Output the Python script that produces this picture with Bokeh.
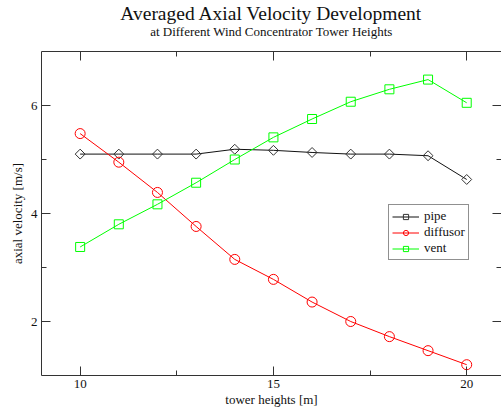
import numpy as np
from bokeh.plotting import figure
from bokeh.models import (Range1d, LinearAxis, FixedTicker, Legend, LegendItem, Title)
from bokeh.embed import file_html
from bokeh.resources import INLINE

# ---- data ----
heights = [10, 11, 12, 13, 14, 15, 16, 17, 18, 19, 20]
pipe = [5.10, 5.10, 5.10, 5.10, 5.19, 5.17, 5.13, 5.10, 5.10, 5.07, 4.63]
diffusor = [5.48, 4.95, 4.39, 3.76, 3.15, 2.78, 2.36, 2.00, 1.72, 1.46, 1.20]
vent = [3.38, 3.80, 4.17, 4.57, 5.00, 5.41, 5.75, 6.07, 6.30, 6.48, 6.05]
x_major = [10, 15, 20]
x_minor = [12.5, 17.5]
y_major = [2, 4, 6]
y_minor = [3, 5]

FONT = "Liberation Serif"
AX = "#333333"

p = figure(width=501, height=409, output_backend="svg", toolbar_location=None,
           x_range=Range1d(9, 20.9), y_range=Range1d(1, 7),
           x_axis_location=None, y_axis_location=None,
           min_border_left=41, min_border_right=0, min_border_top=51, min_border_bottom=34)
p.outline_line_color = None
p.xgrid.visible = False
p.ygrid.visible = False
p.background_fill_color = "white"
p.border_fill_color = "white"

xt = FixedTicker(ticks=x_major, minor_ticks=x_minor)
yt = FixedTicker(ticks=y_major, minor_ticks=y_minor)

def style(ax, labels=True):
    ax.axis_line_color = AX
    ax.major_tick_line_color = AX
    ax.minor_tick_line_color = AX
    ax.major_tick_in = 9
    ax.major_tick_out = 0
    ax.minor_tick_in = 5
    ax.minor_tick_out = 0
    ax.major_label_text_font = FONT
    ax.axis_label_text_font = FONT
    ax.axis_label_text_font_style = "normal"
    ax.axis_label_text_font_size = "13px"
    ax.axis_label_text_color = "#111111"
    if labels:
        ax.major_label_text_font_size = "13px"
        ax.major_label_text_color = "#111111"
    else:
        ax.major_label_text_font_size = "0px"
        ax.major_label_text_color = None
        ax.major_label_standoff = 0

bottom = LinearAxis(ticker=xt, axis_label="tower heights [m]")
style(bottom)
bottom.major_label_standoff = 4
bottom.axis_label_standoff = 1
p.add_layout(bottom, "below")

left = LinearAxis(ticker=yt, axis_label="axial velocity [m/s]")
style(left)
left.major_label_standoff = 4
left.axis_label_standoff = 3
p.add_layout(left, "left")

# top axis: ticks only; an invisible blank axis label reserves room under the titles
top = LinearAxis(ticker=xt, axis_label=" ")
style(top, labels=False)
top.axis_label_text_color = None
top.axis_label_standoff = -5
p.add_layout(top, "above")

right = LinearAxis(ticker=yt)
style(right, labels=False)
right.axis_line_color = None
p.add_layout(right, "right")

# ---- series ----
l1 = p.line(heights, pipe, line_color="#111111", line_width=1)
m1 = p.scatter(heights, pipe, marker="square", angle=np.pi / 4, size=7,
               line_color="#333333", fill_color=None, line_width=1)
l2 = p.line(heights, diffusor, line_color="#ff0000", line_width=1)
m2 = p.scatter(heights, diffusor, marker="circle", size=10,
               line_color="#ff0000", fill_color=None, line_width=1)
l3 = p.line(heights, vent, line_color="#00ff00", line_width=1)
m3 = p.scatter(heights, vent, marker="square", size=9,
               line_color="#00ff00", fill_color=None, line_width=1)

legend = Legend(items=[LegendItem(label="pipe", renderers=[l1, m1]),
                       LegendItem(label="diffusor", renderers=[l2, m2]),
                       LegendItem(label="vent", renderers=[l3, m3])],
                location=(347, 115))
legend.label_text_font = FONT
legend.label_text_font_size = "13px"
legend.label_text_color = "#111111"
legend.border_line_color = "#222222"
legend.border_line_width = 1
legend.background_fill_alpha = 1
legend.padding = 3
legend.spacing = 0
legend.margin = 0
legend.glyph_width = 27
legend.glyph_height = 13
legend.label_height = 13
legend.label_standoff = 5
p.add_layout(legend)

# ---- titles ----
sub = Title(text="at Different Wind Concentrator Tower Heights", align="center",
            text_font=FONT, text_font_size="13px", text_font_style="normal",
            text_color="#111111", standoff=-1)
main = Title(text="Averaged Axial Velocity Development", align="center",
             text_font=FONT, text_font_size="19.5px", text_font_style="normal",
             text_color="#111111", standoff=-3)
p.add_layout(sub, "above")
p.add_layout(main, "above")

open("out.html", "w").write(file_html(p, INLINE))
